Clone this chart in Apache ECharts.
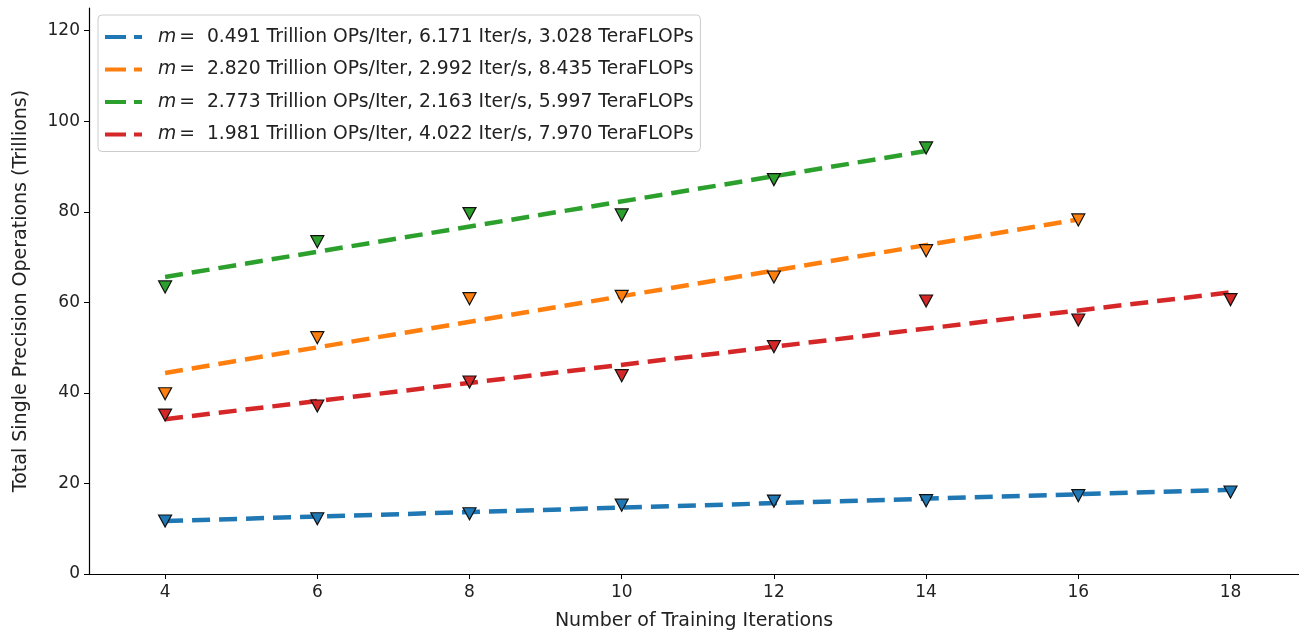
<!DOCTYPE html>
<html>
<head>
<meta charset="utf-8">
<script src="https://cdn.jsdelivr.net/npm/echarts@6/dist/echarts.min.js"></script>
<style>html,body{margin:0;padding:0;background:#fff}#c{width:1299px;height:632px}</style>
</head>
<body>
<div id="c"></div>
<script>
// ---- data ----
const seriesLabels = [
  '0.491 Trillion OPs/Iter, 6.171 Iter/s, 3.028 TeraFLOPs',
  '2.820 Trillion OPs/Iter, 2.992 Iter/s, 8.435 TeraFLOPs',
  '2.773 Trillion OPs/Iter, 2.163 Iter/s, 5.997 TeraFLOPs',
  '1.981 Trillion OPs/Iter, 4.022 Iter/s, 7.970 TeraFLOPs'
];
const colors = ['#1f77b4', '#ff7f0e', '#2ca02c', '#d62728'];

const blueX = [4, 6, 8, 10, 12, 14, 16, 18];
const blueY = [11.7, 12.2, 13.3, 15.2, 16.1, 16.2, 17.3, 18.1];
const orangeX = [4, 6, 8, 10, 12, 14, 16];
const orangeY = [39.8, 52.2, 60.8, 61.3, 65.6, 71.4, 78.2];
const greenX = [4, 6, 8, 10, 12, 14];
const greenY = [63.4, 73.4, 79.6, 79.3, 87.1, 94.1];
const redX = [4, 6, 8, 10, 12, 14, 16, 18];
const redY = [35.1, 37.1, 42.4, 43.8, 50.2, 60.3, 56.1, 60.6];

// fitted trend lines: [x start, x end] and [y start, y end]
const fitX = [[4, 18], [4, 16], [4, 14], [4, 18]];
const fitY = [[11.7, 18.6], [44.4, 78.3], [65.6, 93.4], [34.2, 62.2]];

const xTicks = [4, 6, 8, 10, 12, 14, 16, 18];
const yTicks = [0, 20, 40, 60, 80, 100, 120];

// ---- build chart ----
const pointsX = [blueX, orangeX, greenX, redX];
const pointsY = [blueY, orangeY, greenY, redY];
const tri = 'path://M0,0 L12,0 L6,11 Z';
const series = [];
for (let i = 0; i < 4; i++) {
  series.push({
    name: seriesLabels[i],
    type: 'line',
    data: fitX[i].map((x, j) => [x, fitY[i][j]]),
    showSymbol: false,
    symbol: 'none',
    lineStyle: { color: colors[i], width: 4.5, type: [18, 9], cap: 'butt' },
    itemStyle: { color: colors[i] },
    z: 2,
    silent: true
  });
}
for (let i = 0; i < 4; i++) {
  series.push({
    name: 'pts' + i,
    type: 'scatter',
    data: pointsX[i].map((x, j) => [x, pointsY[i][j]]),
    symbol: tri,
    symbolSize: [13, 12],
    itemStyle: { color: colors[i], borderColor: '#111', borderWidth: 1.2, opacity: 1 },
    z: 3,
    silent: true
  });
}

const legendIcon = 'path://M0,0 L21,0 L21,4 L0,4 Z M29,0 L37,0 L37,4 L29,4 Z';
const font = 'DejaVu Sans';
const chart = echarts.init(document.getElementById('c'), null, { renderer: 'canvas' });
chart.setOption({
  animation: false,
  backgroundColor: '#fff',
  textStyle: { fontFamily: font },
  grid: { left: 89, right: 0, top: 8, bottom: 58, containLabel: false, outerBoundsMode: 'none' },
  legend: {
    data: seriesLabels.map((n, i) => ({ name: n, icon: legendIcon, itemStyle: { color: colors[i] } })),
    orient: 'vertical',
    left: 98, top: 15,
    padding: [11, 7, 6, 7],
    itemWidth: 37, itemHeight: 4,
    itemGap: 10.5,
    backgroundColor: 'rgba(255,255,255,0.8)',
    borderColor: '#cccccc', borderWidth: 1, borderRadius: 4,
    selectedMode: false,
    formatter: n => '{i|m}{t|=  ' + n + '}',
    textStyle: {
      fontFamily: font, fontSize: 18.75, color: '#222', lineHeight: 22,
      padding: [0, 0, 0, 11],
      rich: {
        i: { fontFamily: font, fontStyle: 'italic', fontSize: 18.75, color: '#222', lineHeight: 22, padding: [0, 3, 0, 0] },
        t: { fontFamily: font, fontSize: 18.75, color: '#222', lineHeight: 22 }
      }
    }
  },
  xAxis: {
    type: 'value', min: 3, max: 18.9,
    name: 'Number of Training Iterations', nameLocation: 'middle', nameGap: 38,
    nameTextStyle: { fontFamily: font, fontSize: 19, color: '#222' },
    axisLine: { show: true, onZero: false, lineStyle: { color: '#000', width: 1.2 } },
    axisTick: { show: true, length: 5, lineStyle: { color: '#000', width: 1 }, customValues: xTicks },
    axisLabel: { customValues: xTicks, fontFamily: font, fontSize: 17, color: '#222', margin: 10 },
    splitLine: { show: false }
  },
  yAxis: {
    type: 'value', min: 0, max: 125,
    name: 'Total Single Precision Operations (Trillions)', nameLocation: 'middle', nameGap: 58,
    nameTextStyle: { fontFamily: font, fontSize: 19, color: '#222' },
    axisLine: { show: true, onZero: false, lineStyle: { color: '#000', width: 1.2 } },
    axisTick: { show: true, length: 5, lineStyle: { color: '#000', width: 1 }, customValues: yTicks },
    axisLabel: { customValues: yTicks, fontFamily: font, fontSize: 17, color: '#222', margin: 9 },
    splitLine: { show: false }
  },
  series: series
});
</script>
</body>
</html>
